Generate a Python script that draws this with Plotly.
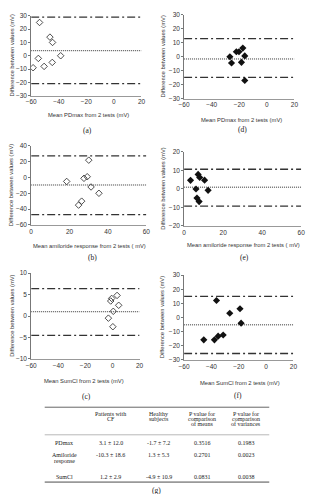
import plotly.graph_objects as go

W, H = 311, 494

# ---------------- data ----------------
# (a) PDmax, patients with CF
a_x = [-53.9, -46.4, -44.5, -54.8, -58.6, -50.6, -44.7, -38.6]
a_y = [25, 14, 10, -2, -9, -8, -5, 0]
a_lim = [29.0, 3.8, -21.0]          # upper LoA, mean, lower LoA
# (d) PDmax, healthy subjects
d_x = [-26.8, -25.6, -22.1, -20.2, -17.4, -16.0, -18.4, -16.0]
d_y = [0, -4.5, 3.6, 3.6, 6.2, 0.6, -4.0, -17.0]
d_lim = [13.0, -1.6, -14.8]
# (b) amiloride response, CF
b_x = [30.0, 18.5, 27.5, 29.2, 31.2, 35.3, 26.3, 24.7]
b_y = [22, -5, -1, 1, -12, -20, -30, -35]
b_lim = [27.5, -9.5, -47.0]
# (e) amiloride response, healthy
e_x = [3.3, 7.2, 8.0, 10.5, 6.1, 12.3, 6.6, 7.7]
e_y = [4.6, 7.8, 6.2, 4.7, -0.1, -0.8, -5.0, -6.9]
e_lim = [10.6, 0.9, -9.4]
# (c) SumCl, CF
c_x = [3.4, -0.6, -1.3, 4.6, 0.6, -3.0, 0.3]
c_y = [4.8, 4.1, 3.5, 2.5, 1.1, -0.5, -2.5]
c_lim = [6.4, 1.0, -4.5]
# (f) SumCl, healthy
f_x = [-36.3, -26.6, -19.1, -18.3, -45.6, -37.8, -35.1, -31.4]
f_y = [12, 3, 6.2, -4, -15.8, -15.8, -13.2, -12.4]
f_lim = [15.0, -5.2, -25.5]

# axis ranges / ticks
pd_xr, pd_yr = [-60, 20], [-30, 30]
am_xr = [0, 60]
b_yr, e_yr = [-60, 40], [-20, 20]
c_yr, f_yr = [-10, 10], [-30, 30]

ytitle = "Difference between values (mV)"
xt_pd = "Mean PDmax from 2 tests (mV)"
xt_am = "Mean amiloride response from 2 tests ( mV)"
xt_sc = "Mean SumCl from 2 tests (mV)"

# table
tab_cols = [["Patients with", "CF"], ["Healthy", "subjects"],
            ["P value for", "comparison", "of means"],
            ["P value for", "comparison", "of variances"]]
tab_rows = [["PDmax"], ["Amiloride", "response"], ["SumCl"]]
tab_vals = [["3.1 ± 12.0", "-1.7 ± 7.2", "0.3516", "0.1983"],
            ["-10.3 ± 18.6", "1.3 ± 5.3", "0.2701", "0.0023"],
            ["1.2 ± 2.9", "-4.9 ± 10.9", "0.0831", "0.0038"]]

# ---------------- layout helpers ----------------
def px_x(v):
    return v / W

def px_y(v):
    return 1 - v / H

panels = [
    dict(x=a_x, y=a_y, lim=a_lim, xr=pd_xr, yr=pd_yr, dy=10, dx=20, op=True,
         box=(26, 140, 12, 93), xt=xt_pd, lab="(a)", lx=84, ly=128, ty=113, tx=85, yx=6),
    dict(x=d_x, y=d_y, lim=d_lim, xr=pd_xr, yr=pd_yr, dy=10, dx=20, op=False,
         box=(184, 298, 11, 96), xt=xt_pd, lab="(d)", lx=244, ly=127, ty=118, tx=243, yx=162),
    dict(x=b_x, y=b_y, lim=b_lim, xr=am_xr, yr=b_yr, dy=20, dx=20, op=True,
         box=(26, 145, 144, 224), xt=xt_am, lab="(b)", lx=89, ly=257, ty=245, tx=86, yx=6),
    dict(x=e_x, y=e_y, lim=e_lim, xr=am_xr, yr=e_yr, dy=10, dx=20, op=False,
         box=(184, 305, 150, 225), xt=xt_am, lab="(e)", lx=246, ly=257, ty=244, tx=245, yx=162),
    dict(x=c_x, y=c_y, lim=c_lim, xr=pd_xr, yr=c_yr, dy=5, dx=20, op=True,
         box=(26, 138, 273, 360), xt=xt_sc, lab="(c)", lx=83, ly=398, ty=382, tx=81, yx=6),
    dict(x=f_x, y=f_y, lim=f_lim, xr=pd_xr, yr=f_yr, dy=10, dx=20, op=False,
         box=(184, 297, 275, 361), xt=xt_sc, lab="(f)", lx=240, ly=397, ty=384, tx=242, yx=162),
]

fig = go.Figure()
layout = dict(width=W, height=H, margin=dict(l=0, r=0, t=0, b=0),
              paper_bgcolor="white", plot_bgcolor="white", showlegend=False)
annotations = []
shapes = []

TICKFONT = dict(family="Liberation Sans, Arial, sans-serif", size=6.5, color="#333")
TITLEFONT = dict(family="Liberation Sans, Arial, sans-serif", size=5.8, color="#333")
LABFONT = dict(family="Liberation Serif, Times New Roman, serif", size=7.5, color="#222")

for i, p in enumerate(panels, start=1):
    xa = "x" if i == 1 else f"x{i}"
    ya = "y" if i == 1 else f"y{i}"
    l, r, t, b = p["box"]
    layout["xaxis" if i == 1 else f"xaxis{i}"] = dict(
        domain=[px_x(l), px_x(r)], anchor=ya, range=p["xr"], dtick=p["dx"],
        tick0=p["xr"][0], showgrid=False, zeroline=False, showline=True,
        linecolor="#999", linewidth=0.8, ticks="", tickfont=TICKFONT,
        ticklen=2, fixedrange=True)
    layout["yaxis" if i == 1 else f"yaxis{i}"] = dict(
        domain=[px_y(b), px_y(t)], anchor=xa, range=p["yr"], dtick=p["dy"],
        tick0=p["yr"][0], showgrid=False, zeroline=False, showline=True,
        linecolor="#777", linewidth=0.8, ticks="outside", ticklen=2,
        tickcolor="#777", tickwidth=0.8, tickfont=TICKFONT, fixedrange=True)

    up, mean, lo = p["lim"]
    for val, dash, w in [(up, "8px,3px,2px,3px", 1.3), (lo, "8px,3px,2px,3px", 1.3),
                         (mean, "1px,1px", 1.0)]:
        fig.add_trace(go.Scatter(x=[p["xr"][0], p["xr"][1]], y=[val, val], mode="lines",
                                 line=dict(color="#333", width=w, dash=dash),
                                 xaxis=xa, yaxis=ya, hoverinfo="skip"))
    if p["op"]:
        marker = dict(symbol="diamond-open", size=5, color="#222", line=dict(width=0.8, color="#222"))
    else:
        marker = dict(symbol="diamond", size=5.5, color="#111")
    fig.add_trace(go.Scatter(x=p["x"], y=p["y"], mode="markers", marker=marker,
                             xaxis=xa, yaxis=ya))

    annotations.append(dict(x=px_x(p["tx"]), y=px_y(p["ty"]), xref="paper", yref="paper",
                            text=p["xt"], showarrow=False, font=TITLEFONT,
                            xanchor="center", yanchor="middle"))
    annotations.append(dict(x=px_x(p["yx"]), y=px_y((t + b) / 2), xref="paper", yref="paper",
                            text=ytitle, showarrow=False, font=TITLEFONT, textangle=-90,
                            xanchor="center", yanchor="middle"))
    annotations.append(dict(x=px_x(p["lx"]), y=px_y(p["ly"]), xref="paper", yref="paper",
                            text=p["lab"], showarrow=False, font=LABFONT,
                            xanchor="center", yanchor="middle"))

# ---------------- table ----------------
TFONT = dict(family="Liberation Serif, Times New Roman, serif", size=6, color="#222")
col_x = [108, 158, 203, 248]
row_x = 60
head_y = [415.5, 421, 426.5]
row_ys = [[445], [457.5, 464], [479.5]]

for cx, lines in zip(col_x, tab_cols):
    for ly, txt in zip(head_y, lines):
        annotations.append(dict(x=px_x(cx), y=px_y(ly), xref="paper", yref="paper", text=txt,
                                showarrow=False, font=TFONT, xanchor="center", yanchor="middle"))
for ri, (lab, vals) in enumerate(zip(tab_rows, tab_vals)):
    ys = row_ys[ri]
    for ly, txt in zip(ys, lab):
        annotations.append(dict(x=px_x(row_x), y=px_y(ly), xref="paper", yref="paper", text=txt,
                                showarrow=False, font=TFONT, xanchor="center", yanchor="middle"))
    for cx, v in zip(col_x, vals):
        annotations.append(dict(x=px_x(cx), y=px_y(ys[0]), xref="paper", yref="paper", text=v,
                                showarrow=False, font=TFONT, xanchor="center", yanchor="middle"))

for yy, w, col in [(409, 1.0, "#666"), (437, 0.6, "#888"), (485, 1.6, "#999")]:
    shapes.append(dict(type="line", xref="paper", yref="paper", x0=px_x(40), x1=px_x(272),
                       y0=px_y(yy), y1=px_y(yy), line=dict(color=col, width=w)))

annotations.append(dict(x=px_x(155), y=px_y(493), xref="paper", yref="paper", text="(g)",
                        showarrow=False, font=LABFONT, xanchor="center", yanchor="middle"))

layout["annotations"] = annotations
layout["shapes"] = shapes
fig.update_layout(**layout)
fig.write_html("out.html")
